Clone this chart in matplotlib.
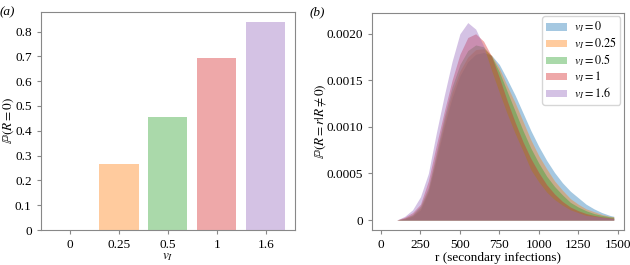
import matplotlib
matplotlib.use('Agg')
import matplotlib.pyplot as plt
import numpy as np

plt.rcParams['font.family'] = ['Liberation Serif', 'DejaVu Serif']
plt.rcParams['mathtext.fontset'] = 'stix'
plt.rcParams['font.size'] = 9.5

# panel (a): probability of no secondary infections
vi_labels = ['0', '0.25', '0.5', '1', '1.6']
p_zero = [0.0, 0.265, 0.455, 0.694, 0.838]

# panel (b): conditional distribution of secondary infections
r = [100, 150, 200, 250, 300, 350, 400, 450, 500, 550, 600, 650, 700, 750,
     800, 850, 900, 950, 1000, 1050, 1100, 1150, 1200, 1250, 1300, 1350,
     1400, 1450, 1475]
p_v0 = [0.0, 0.00001, 0.00004, 0.00011, 0.00030, 0.00064, 0.00100, 0.00131,
        0.00155, 0.00170, 0.00178, 0.00180, 0.00177, 0.00167, 0.00151,
        0.00134, 0.00115, 0.00096, 0.00079, 0.00064, 0.00051, 0.00040,
        0.00031, 0.00024, 0.00017, 0.00012, 0.00008, 0.00005, 0.00004]
p_v025 = [0.0, 0.00002, 0.00005, 0.00013, 0.00032, 0.00068, 0.00105, 0.00137,
          0.00160, 0.00175, 0.00183, 0.00184, 0.00177, 0.00163, 0.00144,
          0.00126, 0.00106, 0.00086, 0.00069, 0.00055, 0.00042, 0.00032,
          0.00023, 0.00017, 0.00012, 0.00009, 0.00006, 0.00004, 0.000035]
p_v05 = [0.0, 0.00002, 0.00006, 0.00015, 0.00035, 0.00072, 0.00110, 0.00143,
         0.00167, 0.00182, 0.00188, 0.00186, 0.00176, 0.00159, 0.00138,
         0.00117, 0.00096, 0.00077, 0.00061, 0.00047, 0.00036, 0.00027,
         0.00019, 0.00014, 0.00010, 0.00007, 0.00005, 0.000035, 0.00003]
p_v1 = [0.0, 0.00003, 0.00008, 0.00017, 0.00042, 0.00080, 0.00116, 0.00150,
        0.00178, 0.00196, 0.00200, 0.00192, 0.00176, 0.00153, 0.00128,
        0.00105, 0.00084, 0.00066, 0.00051, 0.00038, 0.00028, 0.00020,
        0.00014, 0.00010, 0.00007, 0.00005, 0.000035, 0.000025, 0.00002]
p_v16 = [0.0, 0.00004, 0.00011, 0.00025, 0.00050, 0.00093, 0.00133, 0.00170,
         0.00200, 0.00212, 0.00205, 0.00187, 0.00161, 0.00137, 0.00114,
         0.00093, 0.00074, 0.00054, 0.00041, 0.00030, 0.00022, 0.00016,
         0.00011, 0.00008, 0.00005, 0.00004, 0.00003, 0.00002, 0.000015]

colors = ['tab:blue', 'tab:orange', 'tab:green', 'tab:red', 'tab:purple']
spine_col = '#888888'

fig = plt.figure(figsize=(6.3, 2.65), dpi=100)
ax1 = fig.add_axes([0.0646, 0.132, 0.4037, 0.824])
ax2 = fig.add_axes([0.590, 0.132, 0.4005, 0.820])

# (a) bars
x = np.arange(len(vi_labels))
ax1.bar(x, p_zero, width=0.8, color=colors, alpha=0.4)
ax1.set_xticks(x)
ax1.set_xticklabels(vi_labels)
ax1.set_xlim(-0.6, 4.6)
ax1.set_ylim(0, 0.88)
ax1.set_yticks([0, 0.1, 0.2, 0.3, 0.4, 0.5, 0.6, 0.7, 0.8])
ax1.set_yticklabels(['0', '0.1', '0.2', '0.3', '0.4', '0.5', '0.6', '0.7', '0.8'])
ax1.set_xlabel(r'$v_I$', labelpad=0)
ax1.set_ylabel(r'$\mathbb{P}(R=0)$')
ax1.yaxis.set_label_coords(-0.096, 0.5)

# (b) filled distributions
series = [p_v0, p_v025, p_v05, p_v1, p_v16]
for lab, ys, c in zip(vi_labels, series, colors):
    ax2.fill_between(r, ys, 0, color=c, alpha=0.4, linewidth=0,
                     label=r'$v_I = %s$' % lab)
ax2.set_xlim(-59, 1540)
ax2.set_ylim(-0.000107, 0.002226)
ax2.set_xticks([0, 250, 500, 750, 1000, 1250, 1500])
ax2.set_yticks([0, 0.0005, 0.001, 0.0015, 0.002])
ax2.set_yticklabels(['0', '0.0005', '0.0010', '0.0015', '0.0020'])
ax2.set_xlabel('r (secondary infections)', labelpad=1)
ax2.set_ylabel(r'$\mathbb{P}(R=r|R\neq 0)$')
ax2.yaxis.set_label_coords(-0.172, 0.5)
ax2.legend(loc='upper right', fontsize=8.7, handlelength=1.7, handleheight=0.6,
           borderaxespad=0.3, borderpad=0.3, labelspacing=0.12,
           handletextpad=0.6, edgecolor='#cccccc')

for ax in (ax1, ax2):
    for s in ax.spines.values():
        s.set_color(spine_col)
    ax.tick_params(colors='black', length=3, width=0.8, color=spine_col)

fig.text(0.0, 0.975, '(a)', fontstyle='italic', fontsize=9.5, va='top')
fig.text(0.492, 0.975, '(b)', fontstyle='italic', fontsize=9.5, va='top')

fig.savefig('out.png', dpi=100)
